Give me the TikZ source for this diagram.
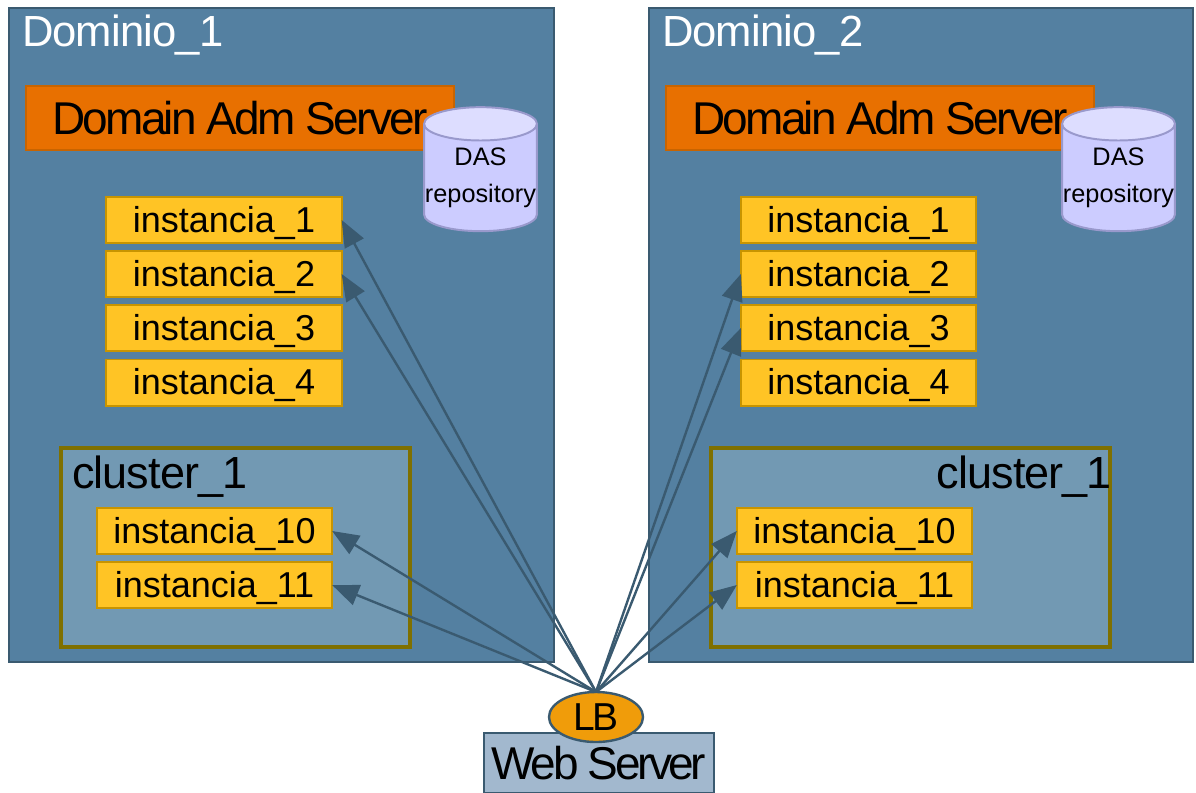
\documentclass[tikz,border=0pt]{standalone}
\usepackage{fontspec}
\setmainfont{Liberation Sans}
\newfontfamily\tightfont[LetterSpace=-6]{Liberation Sans}
\newfontfamily\webfont[LetterSpace=-7.5]{Liberation Sans}
\newfontfamily\slimfont[LetterSpace=-2]{Liberation Sans}
\usetikzlibrary{shapes.geometric,arrows.meta,positioning}

\definecolor{domblue}{HTML}{5480A1}
\definecolor{domline}{HTML}{3A5A70}
\definecolor{clusterblue}{HTML}{7299B3}
\definecolor{clusterline}{HTML}{7F7000}
\definecolor{instyellow}{HTML}{FFC425}
\definecolor{instline}{HTML}{C89400}
\definecolor{dasorange}{HTML}{E87000}
\definecolor{dasline}{HTML}{C86400}
\definecolor{cylbody}{HTML}{CCCCFF}
\definecolor{cyltop}{HTML}{DDDDFF}
\definecolor{cylline}{HTML}{9999CC}
\definecolor{lborange}{HTML}{F09C0A}
\definecolor{webblue}{HTML}{A2B8CE}

\tikzset{
    every node/.style={outer sep=0pt, inner sep=0pt},
    domainbox/.style={draw=domline, fill=domblue, line width=1.4pt, minimum width=13.6cm, minimum height=16.35cm},
    domtitle/.style={text=white, anchor=west, font=\fontsize{31}{36}\selectfont\slimfont},
    dasbox/.style={draw=dasline, fill=dasorange, line width=1.4pt, minimum width=10.72cm, minimum height=1.58cm, font=\fontsize{32.7}{38}\selectfont\tightfont},
    repo/.style={cylinder, shape border rotate=90, aspect=0.3, draw=cylline, line width=1.4pt, cylinder uses custom fill, cylinder body fill=cylbody, cylinder end fill=cyltop, minimum width=2.82cm, minimum height=3.1cm, align=center, font=\fontsize{18}{26}\selectfont},
    instbox/.style={draw=instline, fill=instyellow, line width=1.4pt, minimum width=5.88cm, minimum height=1.15cm, text height=0.75cm, text depth=0.15cm, font=\fontsize{25.6}{30}\selectfont},
    clusterbox/.style={draw=clusterline, fill=clusterblue, line width=2.9pt, minimum height=4.97cm},
    clustertitle/.style={font=\fontsize{32}{36}\selectfont\slimfont},
    link/.style={draw=domline, line width=1.7pt, -{Triangle[length=19pt,width=15pt]}}
}

\begin{document}
\begin{tikzpicture}[x=0.025cm, y=-0.025cm]
    \useasboundingbox (0,0) rectangle (1196,792);

    % Dominio 1
    \node[domainbox] (dom1) at (281.5,335) {};
    \node[domtitle] (dom1title) at (22,35) {Dominio\_1};
    \node[dasbox] (das1) at (240,118) {Domain Adm Server};
    \node[repo] (repo1) at (480.5,178) {DAS\\repository};
    \node[instbox] (a1) at (224,220) {instancia\_1};
    \node[instbox] (a2) at (224,274) {instancia\_2};
    \node[instbox] (a3) at (224,328) {instancia\_3};
    \node[instbox] (a4) at (224,382.5) {instancia\_4};

    % cluster of Dominio 1
    \node[clusterbox, minimum width=8.7cm] (cl1) at (235.5,547.5) {};
    \node[clustertitle, anchor=west] (cl1title) at (72,477) {cluster\_1};
    \node[instbox] (a10) at (214.5,531) {instancia\_10};
    \node[instbox] (a11) at (214.5,585) {instancia\_11};

    % Dominio 2
    \node[domainbox] (dom2) at (921,335) {};
    \node[domtitle] (dom2title) at (662,35) {Dominio\_2};
    \node[dasbox] (das2) at (880,118) {Domain Adm Server};
    \node[repo] (repo2) at (1118.5,178) {DAS\\repository};
    \node[instbox] (b1) at (858.5,220) {instancia\_1};
    \node[instbox] (b2) at (858.5,274) {instancia\_2};
    \node[instbox] (b3) at (858.5,328) {instancia\_3};
    \node[instbox] (b4) at (858.5,382.5) {instancia\_4};

    % cluster of Dominio 2
    \node[clusterbox, minimum width=9.98cm] (cl2) at (910.5,547.5) {};
    \node[clustertitle, anchor=east] (cl2title) at (1112,477) {cluster\_1};
    \node[instbox] (b10) at (854.5,531) {instancia\_10};
    \node[instbox] (b11) at (854.5,585) {instancia\_11};

    % Web server and balancer
    \node[draw=domline, fill=webblue, line width=1.4pt, minimum width=5.75cm, minimum height=1.5cm, font=\fontsize{32.7}{38}\selectfont\webfont] (web) at (599,763) {Web Server};
    \node[draw=domline, fill=lborange, line width=1.7pt, ellipse, minimum width=2.35cm, minimum height=1.25cm, font=\fontsize{27.7}{32}\selectfont\webfont] (lb) at (596,717) {LB};

    % Arrows
    \draw[link] (lb.north) -- (a1.east);
    \draw[link] (lb.north) -- (a2.east);
    \draw[link] (lb.north) -- (a10.east);
    \draw[link] (lb.north) -- (a11.east);
    \draw[link] (lb.north) -- (b2.west);
    \draw[link] (lb.north) -- (b3.west);
    \draw[link] (lb.north) -- (b10.west);
    \draw[link] (lb.north) -- (b11.west);
\end{tikzpicture}
\end{document}
